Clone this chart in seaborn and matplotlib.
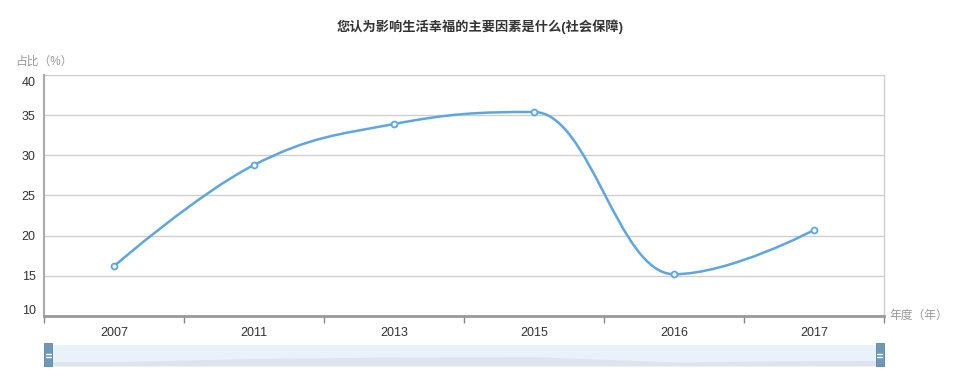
import numpy as np
import pandas as pd
import seaborn as sns
import matplotlib.pyplot as plt
from matplotlib.path import Path
from matplotlib.patches import PathPatch, Rectangle
import matplotlib.transforms as mtransforms

years = ['2007', '2011', '2013', '2015', '2016', '2017']
share = [16.2, 28.8, 33.9, 35.4, 15.2, 20.7]
y_ticks = [10, 15, 20, 25, 30, 35, 40]

title = '您认为影响生活幸福的主要因素是什么(社会保障)'
y_name = '占比（%）'
x_name = '年度（年）'

line_color = '#5fa6e0'
grid_color = '#cfcfcf'
label_gray = '#999999'

sns.set_theme(style='white')
plt.rcParams['font.family'] = ['Liberation Sans', 'Noto Sans CJK SC', 'DejaVu Sans']

df = pd.DataFrame({'x': np.arange(len(years)), 'year': years, 'share': share})


def spline_path(xs, ys, smoothing=1.5):
    # highcharts-like spline control points
    n = len(xs)
    verts = [(xs[0], ys[0])]
    codes = [Path.MOVETO]
    conts = []
    for i in range(n):
        if i == 0 or i == n - 1:
            conts.append(((xs[i], ys[i]), (xs[i], ys[i])))
            continue
        d = smoothing + 1
        lx = (smoothing * xs[i] + xs[i - 1]) / d
        ly = (smoothing * ys[i] + ys[i - 1]) / d
        rx = (smoothing * xs[i] + xs[i + 1]) / d
        ry = (smoothing * ys[i] + ys[i + 1]) / d
        corr = (ry - ly) * (rx - xs[i]) / (rx - lx) + ys[i] - ry
        ly += corr
        ry += corr
        if ly > ys[i - 1] and ly > ys[i]:
            ly = max(ys[i - 1], ys[i])
            ry = 2 * ys[i] - ly
        elif ly < ys[i - 1] and ly < ys[i]:
            ly = min(ys[i - 1], ys[i])
            ry = 2 * ys[i] - ly
        if ry > ys[i + 1] and ry > ys[i]:
            ry = max(ys[i + 1], ys[i])
            ly = 2 * ys[i] - ry
        elif ry < ys[i + 1] and ry < ys[i]:
            ry = min(ys[i + 1], ys[i])
            ly = 2 * ys[i] - ry
        conts.append(((lx, ly), (rx, ry)))
    for i in range(1, n):
        verts += [conts[i - 1][1], conts[i][0], (xs[i], ys[i])]
        codes += [Path.CURVE4] * 3
    return Path(verts, codes)


fig = plt.figure(figsize=(9.56, 3.71), dpi=100)
ax = fig.add_axes([44 / 956, 1 - 316 / 371, 840 / 956, 241 / 371])

ax.set_xlim(-0.5, len(years) - 0.5)
ax.set_ylim(10, 40)
ax.set_yticks(y_ticks)
ax.yaxis.grid(True, color=grid_color, lw=1)
ax.set_axisbelow(True)

path = spline_path(df['x'].to_numpy(float), df['share'].to_numpy(float))
ax.add_patch(PathPatch(path, fill=False, edgecolor=line_color, lw=1.8, zorder=3))
sns.scatterplot(data=df, x='x', y='share', ax=ax, s=18, marker='o',
                facecolor='white', edgecolor=line_color, linewidth=1.3, zorder=4)

# category ticks on the boundaries, labels in the middle
ax.set_xticks(np.arange(len(years) + 1) - 0.5)
ax.set_xticklabels([])
ax.set_xticks(df['x'], minor=True)
ax.set_xticklabels(years, minor=True)
ax.tick_params(axis='x', which='major', direction='out', length=5, width=1, color='#888888', bottom=True)
ax.tick_params(axis='x', which='minor', length=0, labelsize=9, labelcolor='#333333', pad=8)
ax.tick_params(axis='y', length=0, labelsize=9, labelcolor='#333333', pad=6)

ax.spines['top'].set_visible(False)
ax.spines['right'].set_color(grid_color)
ax.spines['right'].set_linewidth(1)
ax.spines['left'].set_color('#aaaaaa')
ax.spines['left'].set_linewidth(1.5)
ax.spines['bottom'].set_color('#999999')
ax.spines['bottom'].set_linewidth(2)
ax.set_xlabel('')
ax.set_ylabel('')

# pull end labels inside like the original
labels = ax.get_yticklabels()
labels[0].set_transform(labels[0].get_transform() + mtransforms.ScaledTranslation(0, 6 / 100, fig.dpi_scale_trans))
labels[-1].set_transform(labels[-1].get_transform() + mtransforms.ScaledTranslation(0, -6 / 100, fig.dpi_scale_trans))

fig.text(480 / 956, 1 - 27 / 371, title, ha='center', va='center', fontsize=9.5,
         fontweight='bold', color='#333333')
fig.text(15 / 956, 1 - 62 / 371, y_name, ha='left', va='center', fontsize=8.5, color=label_gray)
fig.text(889 / 956, 1 - 316 / 371, x_name, ha='left', va='center', fontsize=8.5, color=label_gray)

# data zoom slider
sax = fig.add_axes([44 / 956, 1 - 366 / 371, 840 / 956, 21 / 371])
sax.set_xlim(-0.5, len(years) - 0.5)
sax.set_ylim(0, 40)
sax.set_facecolor('#e9f2f9')
xs_fill = np.r_[-0.5, df['x'], len(years) - 0.5]
ys_fill = np.r_[share[0], share, share[-1]] * 0.5
sax.fill_between(xs_fill, 0, ys_fill, color='#dde5ec', lw=0)
for sp in sax.spines.values():
    sp.set_visible(False)
sax.set_xticks([])
sax.set_yticks([])
for hx in (0.0, 0.99):
    sax.add_patch(Rectangle((hx, -0.02), 0.01, 1.1, transform=sax.transAxes,
                            facecolor='#6f98b8', edgecolor='#5a86a8', lw=0.6, clip_on=False, zorder=5))
    for hy in (0.45, 0.58):
        sax.plot([hx + 0.002, hx + 0.008], [hy, hy], transform=sax.transAxes, color='white',
                 lw=1, clip_on=False, zorder=6)

fig.savefig('out.png', dpi=100)
